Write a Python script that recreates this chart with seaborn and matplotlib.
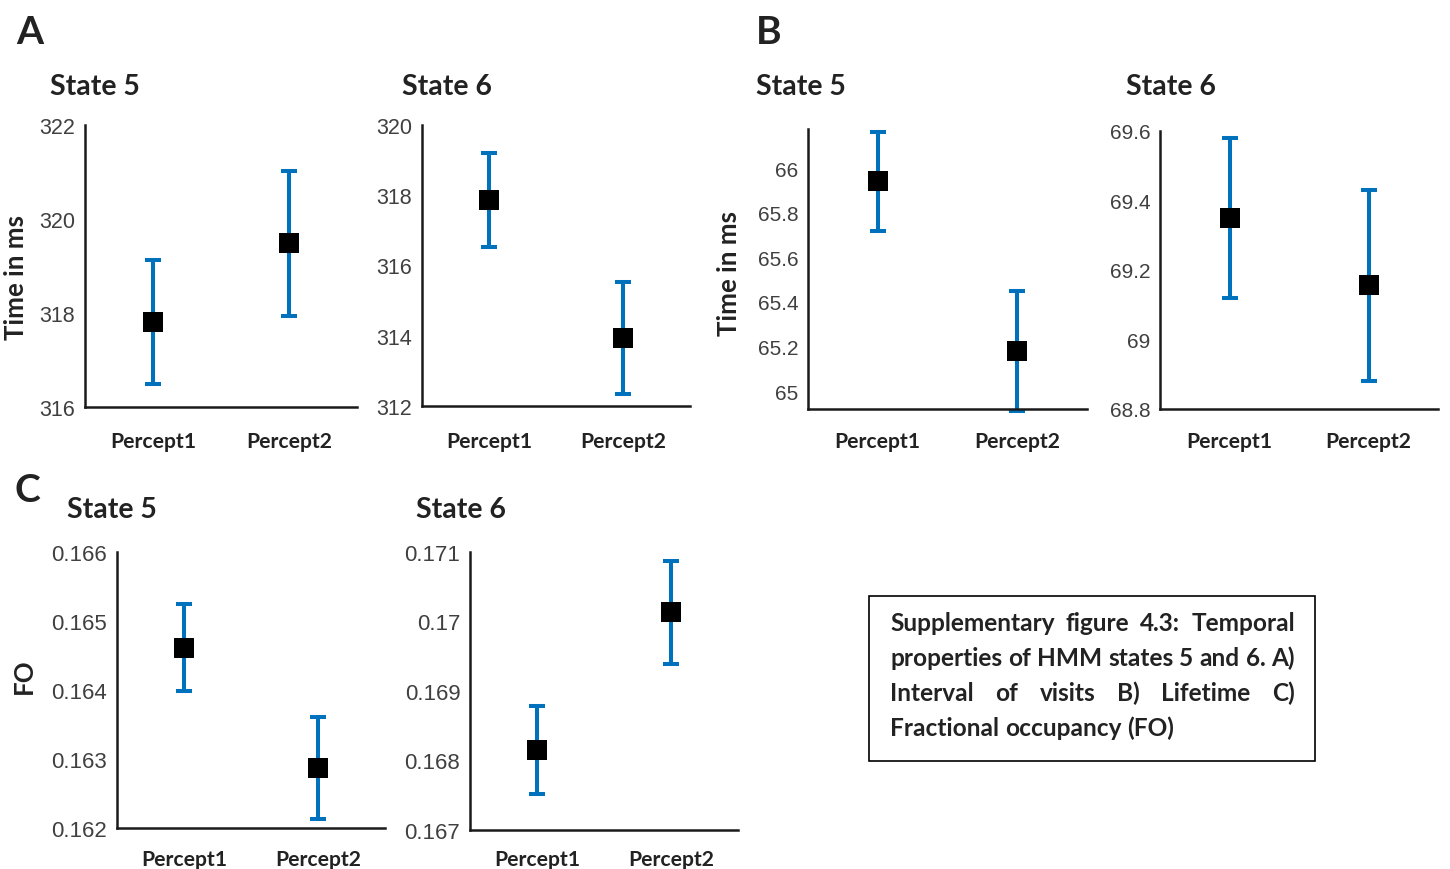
import numpy as np
import pandas as pd
import matplotlib
matplotlib.use("Agg")
import matplotlib.pyplot as plt
import seaborn as sns
from matplotlib import font_manager
from matplotlib.patches import Rectangle
from matplotlib.ticker import FuncFormatter

# ---- data -------------------------------------------------------------
percepts = ["Percept1", "Percept2"]

# A) interval of visits (ms)
interval_s5_mean = [317.80, 319.48]
interval_s5_err = [1.32, 1.55]
interval_s6_mean = [317.86, 313.93]
interval_s6_err = [1.34, 1.60]

# B) lifetime (ms)
lifetime_s5_mean = [65.94, 65.18]
lifetime_s5_err = [0.223, 0.267]
lifetime_s6_mean = [69.350, 69.156]
lifetime_s6_err = [0.231, 0.274]

# C) fractional occupancy
fo_s5_mean = [0.16461, 0.16287]
fo_s5_err = [0.00063, 0.00074]
fo_s6_mean = [0.16815, 0.17013]
fo_s6_err = [0.00063, 0.00074]

interval_s5_ticks = [316, 318, 320, 322]
interval_s6_ticks = [312, 314, 316, 318, 320]
lifetime_s5_ticks = [65.0, 65.2, 65.4, 65.6, 65.8, 66.0]
lifetime_s6_ticks = [68.8, 69.0, 69.2, 69.4, 69.6]
fo_s5_ticks = [0.162, 0.163, 0.164, 0.165, 0.166]
fo_s6_ticks = [0.167, 0.168, 0.169, 0.170, 0.171]

caption_lines = [
    "Supplementary figure 4.3: Temporal",
    "properties of HMM states 5 and 6. A)",
    "Interval of visits B) Lifetime C)",
    "Fractional occupancy (FO)",
]

# ---- style ------------------------------------------------------------
sns.set_style("white")
W, H = 1450, 870
BLUE = "#0072BD"
INK = "#222222"
SPINE = "#1a1a1a"
NUM_FONT = ["Liberation Sans", "DejaVu Sans"]


def pick_bold_family():
    # first humanist sans whose bold face is a real bold file
    for fam in ["Lato", "Open Sans", "Noto Sans", "Liberation Sans"]:
        try:
            path = font_manager.findfont(
                font_manager.FontProperties(family=fam, weight="bold"),
                fallback_to_default=False)
        except Exception:
            continue
        if "bold" in path.lower().split("/")[-1]:
            return fam
    return "DejaVu Sans"


BOLD_FAMILY = pick_bold_family()
BOLD_FONT = [BOLD_FAMILY, "DejaVu Sans"]

fig = plt.figure(figsize=(W / 100, H / 100), dpi=100)
fig.patch.set_facecolor("white")
renderer = fig.canvas.get_renderer()


def fx(px):
    return px / W


def fy(py):
    return 1 - py / H


def bold_width(s, size):
    t = fig.text(0, 0, s, fontsize=size, fontweight="bold", fontfamily=BOLD_FONT)
    w = t.get_window_extent(renderer).width
    t.remove()
    return w


def fit_size(s, target_px):
    return 20 * target_px / bold_width(s, 20)


XTICK_SIZE = fit_size("Percept1", 86)
TITLE_SIZE = fit_size("State 5", 90)
LETTER_SIZE = fit_size("A", 27)
YLABEL_SIZE = fit_size("Time in ms", 124)
CAPTION_SIZE = fit_size(caption_lines[-1], 283)


def make_axes(left, right, top, bottom):
    return fig.add_axes([fx(left), fy(bottom), (right - left) / W, (bottom - top) / H])


def draw_panel(ax, means, errs, ylim, yticks, ytick_size, xpad):
    df = pd.DataFrame({"percept": percepts, "value": means, "err": errs})
    eb = ax.errorbar(df["percept"], df["value"], yerr=df["err"], fmt="none",
                     ecolor=BLUE, elinewidth=2.9, capsize=6, capthick=2.9, zorder=2)
    for art in eb.lines[1] + eb.lines[2]:
        art.set_clip_on(False)
    sns.scatterplot(data=df, x="percept", y="value", marker="s", s=200,
                    color="black", edgecolor="black", linewidth=0, zorder=3,
                    ax=ax, legend=False)
    ax.set_xlim(-0.5, 1.5)
    ax.set_ylim(*ylim)
    ax.set_yticks(yticks)
    ax.yaxis.set_major_formatter(FuncFormatter(lambda v, p: f"{v:g}"))
    ax.set_xlabel("")
    ax.set_ylabel("")
    for side in ("top", "right"):
        ax.spines[side].set_visible(False)
    for side in ("left", "bottom"):
        ax.spines[side].set_color(SPINE)
        ax.spines[side].set_linewidth(1.8)
    ax.tick_params(axis="both", direction="in", length=7, width=1.8, color=SPINE)
    ax.tick_params(axis="x", pad=xpad)
    ax.tick_params(axis="y", pad=7)
    for lab in ax.get_xticklabels():
        lab.set_fontfamily(BOLD_FONT)
        lab.set_fontweight("bold")
        lab.set_fontsize(XTICK_SIZE)
        lab.set_color(INK)
    for lab in ax.get_yticklabels():
        lab.set_fontfamily(NUM_FONT)
        lab.set_fontsize(ytick_size)
        lab.set_color("#404040")
    ax.set_facecolor("none")


# ---- panels -----------------------------------------------------------
ax_a5 = make_axes(85, 357, 126, 408)
draw_panel(ax_a5, interval_s5_mean, interval_s5_err, (316, 322), interval_s5_ticks, 15.5, 17.5)
ax_a6 = make_axes(422, 690, 126, 407)
draw_panel(ax_a6, interval_s6_mean, interval_s6_err, (312, 320), interval_s6_ticks, 15.5, 18)
ax_b5 = make_axes(808, 1087, 130, 410)
draw_panel(ax_b5, lifetime_s5_mean, lifetime_s5_err, (64.92, 66.175), lifetime_s5_ticks, 15, 16)
ax_b6 = make_axes(1160, 1438, 132, 410)
draw_panel(ax_b6, lifetime_s6_mean, lifetime_s6_err, (68.8, 69.6), lifetime_s6_ticks, 15, 16)
ax_c5 = make_axes(117, 385, 553, 829)
draw_panel(ax_c5, fo_s5_mean, fo_s5_err, (0.162, 0.166), fo_s5_ticks, 16, 14.8)
ax_c6 = make_axes(470, 738, 553, 831)
draw_panel(ax_c6, fo_s6_mean, fo_s6_err, (0.167, 0.171), fo_s6_ticks, 16, 14)


def label(px, py, s, size, **kw):
    fig.text(fx(px), fy(py), s, fontsize=size, fontweight="bold",
             fontfamily=BOLD_FONT, color=INK, va="baseline", **kw)


# panel letters
label(16, 44, "A", LETTER_SIZE)
label(756, 44, "B", LETTER_SIZE)
label(15, 502, "C", LETTER_SIZE)

# state titles
label(50, 95, "State 5", TITLE_SIZE)
label(402, 95, "State 6", TITLE_SIZE)
label(756, 95, "State 5", TITLE_SIZE)
label(1126, 95, "State 6", TITLE_SIZE)
label(67, 518, "State 5", TITLE_SIZE)
label(416, 518, "State 6", TITLE_SIZE)

# y axis labels
for px, py, s in [(16, 278, "Time in ms"), (729, 274, "Time in ms"), (24, 676, "FO")]:
    fig.text(fx(px), fy(py), s, fontsize=YLABEL_SIZE, fontweight="bold",
             fontfamily=BOLD_FONT, color=INK, rotation=90, ha="center", va="center")

# caption box
fig.add_artist(Rectangle((fx(869), fy(762)), (1315 - 869) / W, (762 - 597) / H,
                         transform=fig.transFigure, fill=False, edgecolor="black",
                         linewidth=1.2))

x_left, x_right = 890, 1295
baselines = [631, 666, 701, 736]
space_w = bold_width("a a", CAPTION_SIZE) - bold_width("aa", CAPTION_SIZE)

for i, (line, base) in enumerate(zip(caption_lines, baselines)):
    words = line.split(" ")
    widths = [bold_width(w, CAPTION_SIZE) for w in words]
    if i < len(caption_lines) - 1:
        gap = (x_right - x_left - sum(widths)) / (len(words) - 1)
    else:
        gap = space_w
    x = x_left
    for w_txt, w in zip(words, widths):
        fig.text(fx(x), fy(base), w_txt, fontsize=CAPTION_SIZE, fontweight="bold",
                 fontfamily=BOLD_FONT, color=INK, va="baseline")
        x += w + gap

fig.savefig("out.png", dpi=100, facecolor="white")
